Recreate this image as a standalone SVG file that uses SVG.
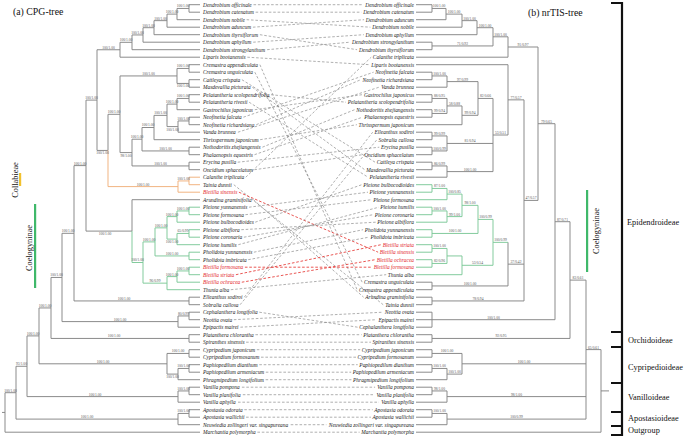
<svg xmlns="http://www.w3.org/2000/svg" width="685" height="437" viewBox="0 0 685 437">
<style>
.t{font-family:"Liberation Serif","Times New Roman",serif;font-style:italic;font-size:5.4px;fill:#222}
.tl{text-anchor:start}.tr{text-anchor:end}
.red{fill:#e3262b}
.s{font-family:"Liberation Serif","Times New Roman",serif;font-size:3.6px;fill:#555;text-anchor:middle}
.br{fill:none;stroke:#858585;stroke-width:0.95}
.gr{fill:none;stroke:#7cc898;stroke-width:0.95}
.or{fill:none;stroke:#f0b07a;stroke-width:0.95}
.lk line{stroke:#8e8e8e;stroke-width:0.7;stroke-dasharray:2.6 1.8}
.lk line.r{stroke:#e53935;stroke-width:0.85}
.h{font-family:"Liberation Serif","Times New Roman",serif;font-size:8.3px;fill:#111}
.ti{font-family:"Liberation Serif","Times New Roman",serif;font-size:9.8px;fill:#111}
</style>
<rect width="685" height="437" fill="#fff"/>
<text class="ti" x="13" y="15">(a) CPG-tree</text>
<text class="ti" x="528" y="16">(b) nrTIS-tree</text>

<g id="tree-a">
<path class="br" d="M200 4.7H189V12.2H200M189 8.45H177V19.7H200M177 14.1H167V27.2H200M167 20.65H154V34.7H200M154 27.7H143V42.2H200M143 34.95H132V49.7H200M132 42.3H120V57.2H200M200 64.7H189V72.2H200M200 79.7H189V87.2H200M189 68.45H177V83.45H189M200 94.7H189V102.2H200M189 98.45H177V109.7H200M200 117.2H189V124.7H200M189 120.95H178V132.2H200M177 104.1H167V126.6H178M167 115.35H154V139.7H200M200 147.2H189V154.7H200M154 127.5H142V150.95H189M200 162.2H189V169.7H200M142 139.2H132V165.95H189M177 75.95H120V152.6H132M120 114.3H108V150.45M120 49.75H97V150.45H108M97 100.1H86V231.1H132M200 199.7H132V231.1M200 297.2H189V304.7H200M86 165.6H74V300.95H189M200 312.2H189V319.7H200M189 315.95H178V327.2H200M74 233.3H62V321.6H178M200 334.7H189V342.2H200M62 277.45H51V338.45H189M200 349.7H189V357.2H200M200 364.7H189V372.2H200M189 368.45H178V379.7H200M189 353.45H167V374.1H178M51 307.95H39V363.8H167M200 387.2H189V394.7H200M189 390.95H178V402.2H200M39 335.9H27V396.6H178M200 409.7H189V417.2H200M189 413.45H178V424.7H200M27 366.25H16V419.1H178M16 392.7H5V432.2H200M2 412.45H5"/>
<path class="or" d="M108 150.45V186.6H178M200 177.2H189V184.7H200M189 180.95H178V192.2H200"/>
<path class="gr" d="M132 231.1V262.5H143M200 207.2H189V214.7H200M189 210.95H177V222.2H200M200 229.7H189V237.2H200M189 233.45H177V244.7H200M177 216.6H167V239.1H177M200 252.2H189V259.7H200M167 227.85H155V255.95H189M200 267.2H189V274.7H200M189 270.95H177V282.2H200M177 276.6H167V289.7H200M155 241.9H143V283.15H167"/>
</g>

<g id="tree-b">
<path class="br" d="M416 4.7H432V12.2H416M432 8.45H446V19.7H416M446 14.1H462V27.2H416M462 20.65H477V34.7H416M416 42.2H432V49.7H416M477 27.7H493V45.95H432M493 36.8H508V57.2H416M416 72.2H432V79.7H416M432 75.95H447V87.2H416M416 94.7H432V102.2H416M416 109.7H432V117.2H416M432 98.45H447V113.45H432M447 105.95H462V124.7H416M447 81.6H478V115.3H462M416 132.2H432V139.7H416M416 147.2H432V154.7H416M432 135.95H447V150.95H432M416 162.2H432V169.7H416M432 165.95H447V177.2H416M478 98.45H493V171.6H447M447 143.45H493M416 64.7H508V135H493M416 282.2H432V289.7H416M508 242.35V285.95H432M416 297.2H432V304.7H416M508 99.85H524V300.95H432M508 264.15H524M508 47H538V200.4H524M416 312.2H432V327.2H416M416 319.7H432M538 123.7H555V319.7H432M416 334.7H432V342.2H416M555 221.7H570V338.45H432M416 349.7H432V357.2H416M416 364.7H432V372.2H416M432 368.45H447V379.7H416M432 353.45H462V374.1H447M416 387.2H432V394.7H416M432 390.95H447V402.2H416M416 409.7H432V417.2H416M432 413.45H447V424.7H416M570 280.1H586V419.1H447M462 363.8H586M447 396.6H586M586 349.6H601V432.2H416M601 390.9H609"/>
<path class="gr" d="M416 184.7H432V192.2H416M432 188.45H447V199.7H416M416 207.2H432V214.7H416M432 210.95H447V222.2H416M447 194.1H462V216.6H447M416 229.7H432V237.2H416M462 205.35H478V233.45H432M416 244.7H432V252.2H416M416 259.7H432V267.2H416M432 248.45H447V263.45H432M447 255.95H462V274.7H416M478 219.4H493V265.3H462M493 242.35H508"/>
</g>

<g id="support-a" class="s">
<text x="183" y="7.35">100/1.00</text><text x="172" y="13">100/1.00</text><text x="160.5" y="19.55">100/1.00</text><text x="148.5" y="26.6">100/1.00</text><text x="137.5" y="33.85">100/1.00</text><text x="126" y="41.2">100/1.00</text><text x="108.5" y="48.65">100/1.00</text>
<text x="183" y="67.35">100/1.00</text><text x="183" y="87.35">100/1.00</text><text x="148.5" y="74.85">100/1.00</text>
<text x="183" y="97.35">100/1.00</text><text x="172" y="103">100/1.00</text><text x="183.5" y="119.85">100/1.00</text><text x="172.5" y="130.5">100/1.00</text><text x="160.5" y="114.25">100/1.00</text><text x="148" y="126.4">100/1.00</text><text x="165.5" y="149.85">100/1.00</text><text x="137" y="138.1">100/1.00</text><text x="160.5" y="164.85">100/1.00</text><text x="126" y="156.5">98/1.00</text><text x="114" y="113.2">100/1.00</text><text x="102.5" y="154.35">100/1.00</text><text x="91.5" y="99">100/1.00</text>
<text x="183.5" y="179.85">100/1.00</text><text x="143" y="185.5">100/1.00</text>
<text x="183" y="209.85">100/1.00</text><text x="172" y="215.5">100/1.00</text><text x="183" y="232.35">65/0.99</text><text x="172" y="243">100/1.00</text><text x="161" y="226.75">100/1.00</text><text x="172" y="254.85">100/1.00</text><text x="149" y="240.8">100/1.00</text><text x="183" y="269.85">100/1.00</text><text x="172" y="275.5">100/1.00</text><text x="155" y="282.05">96/0.99</text><text x="137.5" y="261.4">100/1.00</text><text x="105" y="235">100/1.00</text>
<text x="80" y="164.5">100/1.00</text><text x="124" y="299.85">100/1.00</text><text x="68" y="232.2">100/1.00</text><text x="183.5" y="314.85">80/0.99</text><text x="120" y="320.5">100/1.00</text><text x="56.5" y="276.35">100/1.00</text><text x="114" y="337.35">100/1.00</text><text x="45" y="306.85">100/1.00</text>
<text x="178" y="352.35">100/1.00</text><text x="183.5" y="367.35">100/1.00</text><text x="172.5" y="378">100/1.00</text><text x="103" y="362.7">100/1.00</text><text x="33" y="334.8">100/1.00</text><text x="183.5" y="389.85">100/1.00</text><text x="95" y="395.5">100/1.00</text><text x="21.5" y="365.15">93/1.00</text><text x="183.5" y="412.35">100/1.00</text><text x="87" y="418">100/1.00</text><text x="10.5" y="391.6">100/1.00</text>
</g>

<g id="support-b" class="s">
<text x="439" y="7.35">100/1.00</text><text x="454" y="13">100/1.00</text><text x="469.5" y="19.55">100/1.00</text><text x="485" y="26.6">100/1.00</text><text x="462.5" y="44.85">71/0.92</text><text x="500.5" y="35.7">100/1.00</text><text x="523" y="45.9">91/0.97</text>
<text x="439.5" y="74.85">100/1.00</text><text x="462.5" y="80.5">97/0.99</text><text x="439.5" y="97.35">88/0.95</text><text x="439.5" y="112.35">99/0.94</text><text x="454.5" y="104.85">58/0.88</text><text x="470" y="114.2">99/0.94</text><text x="485.5" y="97.35">82/0.66</text>
<text x="439.5" y="134.85">99/0.99</text><text x="439.5" y="149.85">100/0.99</text><text x="470" y="142.35">81/0.94</text><text x="439.5" y="164.85">86/0.99</text><text x="470" y="170.5">100/1.00</text><text x="500.5" y="133.9">53/0.51</text><text x="516" y="98.75">77/0.57</text>
<text x="439.5" y="187.35">87/1.00</text><text x="454.5" y="193">100/0.85</text><text x="439.5" y="209.85">100/1.00</text><text x="454.5" y="215.5">99/1.00</text><text x="470" y="204.25">98/1.00</text><text x="455" y="232.35">100/1.00</text><text x="485.5" y="218.3">100/0.99</text>
<text x="439.5" y="247.35">100/1.00</text><text x="439.5" y="262.35">82/0.96</text><text x="477.5" y="264.2">53/0.54</text><text x="500.5" y="241.25">100/0.99</text><text x="470" y="284.85">100/1.00</text><text x="516" y="263.05">37/0.42</text><text x="478" y="299.85">78/0.94</text>
<text x="531" y="199.3">47/0.57</text><text x="546.5" y="122.6">79/0.65</text><text x="493.5" y="318.6">100/1.00</text><text x="562.5" y="220.6">87/0.71</text><text x="501" y="337.35">92/0.95</text><text x="578" y="279">83/0.61</text>
<text x="447" y="352.35">100/1.00</text><text x="439.5" y="367.35">100/1.00</text><text x="454.5" y="373">100/1.00</text><text x="524" y="362.7">100/1.00</text><text x="439.5" y="389.85">98/1.00</text><text x="516.5" y="395.5">98/1.00</text><text x="439.5" y="412.35">100/1.00</text><text x="516.5" y="418">100/0.99</text><text x="593.5" y="348.5">65/0.61</text>
</g>

<g id="links" class="lk">
<line x1="253.5" y1="4.7" x2="363.5" y2="4.7"/>
<line x1="255.6" y1="12.2" x2="361.4" y2="12.2"/>
<line x1="246.6" y1="19.7" x2="370.4" y2="27.2"/>
<line x1="252.9" y1="27.2" x2="364.1" y2="19.7"/>
<line x1="259.9" y1="34.7" x2="357.1" y2="49.7"/>
<line x1="253.2" y1="42.2" x2="363.8" y2="34.7"/>
<line x1="267.1" y1="49.7" x2="349.9" y2="42.2"/>
<line x1="247.3" y1="57.2" x2="369.7" y2="64.7"/>
<line x1="259.9" y1="64.7" x2="357.1" y2="289.7"/>
<line x1="254.8" y1="72.2" x2="362.2" y2="282.2"/>
<line x1="241.9" y1="79.7" x2="375.1" y2="162.2"/>
<line x1="252.3" y1="87.2" x2="364.7" y2="169.7"/>
<line x1="271" y1="94.7" x2="346" y2="102.2"/>
<line x1="249.1" y1="102.2" x2="368" y2="177.2"/>
<line x1="254.8" y1="109.7" x2="362.2" y2="94.7"/>
<line x1="243.4" y1="117.2" x2="373.6" y2="72.2"/>
<line x1="256.3" y1="124.7" x2="360.7" y2="79.7"/>
<line x1="237.9" y1="132.2" x2="379.1" y2="87.2"/>
<line x1="260.1" y1="139.7" x2="356.9" y2="124.7"/>
<line x1="262.4" y1="147.2" x2="354.6" y2="109.7"/>
<line x1="254.5" y1="154.7" x2="362.5" y2="117.2"/>
<line x1="237.7" y1="162.2" x2="379.3" y2="147.2"/>
<line x1="254.4" y1="169.7" x2="362.6" y2="154.7"/>
<line x1="245.8" y1="177.2" x2="371.2" y2="57.2"/>
<line x1="233.8" y1="184.7" x2="383.2" y2="304.7"/>
<line class="r" x1="238.9" y1="192.2" x2="378.1" y2="252.2"/>
<line x1="253.4" y1="199.7" x2="363.6" y2="297.2"/>
<line x1="249" y1="207.2" x2="368" y2="192.2"/>
<line x1="245.4" y1="214.7" x2="371.6" y2="199.7"/>
<line x1="255.2" y1="222.2" x2="361.8" y2="184.7"/>
<line x1="241.3" y1="229.7" x2="375.7" y2="222.2"/>
<line x1="243.9" y1="237.2" x2="373.1" y2="214.7"/>
<line x1="238.3" y1="244.7" x2="378.8" y2="207.2"/>
<line x1="253.9" y1="252.2" x2="363.1" y2="229.7"/>
<line x1="248.2" y1="259.7" x2="368.8" y2="237.2"/>
<line class="r" x1="244.9" y1="267.2" x2="372.1" y2="267.2"/>
<line class="r" x1="235.9" y1="274.7" x2="381.1" y2="244.7"/>
<line class="r" x1="241.8" y1="282.2" x2="375.2" y2="259.7"/>
<line x1="230.8" y1="289.7" x2="386.2" y2="274.7"/>
<line x1="244.3" y1="297.2" x2="372.7" y2="132.2"/>
<line x1="240.1" y1="304.7" x2="376.9" y2="139.7"/>
<line x1="259.3" y1="312.2" x2="357.7" y2="327.2"/>
<line x1="233.8" y1="319.7" x2="383.2" y2="312.2"/>
<line x1="240.4" y1="327.2" x2="376.6" y2="319.7"/>
<line x1="255.4" y1="334.7" x2="361.6" y2="334.7"/>
<line x1="246.1" y1="342.2" x2="370.9" y2="342.2"/>
<line x1="256.8" y1="349.7" x2="360.2" y2="349.7"/>
<line x1="261" y1="357.2" x2="356" y2="357.2"/>
<line x1="259.3" y1="364.7" x2="357.7" y2="364.7"/>
<line x1="265.8" y1="372.2" x2="351.2" y2="372.2"/>
<line x1="265.6" y1="379.7" x2="351.4" y2="379.7"/>
<line x1="241.9" y1="387.2" x2="375.1" y2="387.2"/>
<line x1="242.8" y1="394.7" x2="374.2" y2="394.7"/>
<line x1="238" y1="402.2" x2="379" y2="402.2"/>
<line x1="244.3" y1="409.7" x2="372.7" y2="409.7"/>
<line x1="246.1" y1="417.2" x2="370.9" y2="417.2"/>
<line x1="290.7" y1="424.7" x2="326.3" y2="424.7"/>
<line x1="257.4" y1="432.2" x2="359.6" y2="432.2"/>
</g>

<g class="t tl">
<g id="a01"><text x="203" y="6.6">Dendrobium officinale</text></g>
<g id="a02"><text x="203" y="14.1">Dendrobium catenatum</text></g>
<g id="a03"><text x="203" y="21.6">Dendrobium nobile</text></g>
<g id="a04"><text x="203" y="29.1">Dendrobium aduncum</text></g>
<g id="a05"><text x="203" y="36.6">Dendrobium thyrsiflorum</text></g>
<g id="a06"><text x="203" y="44.1">Dendrobium aphyllum</text></g>
<g id="a07"><text x="203" y="51.6">Dendrobium strongylanthum</text></g>
<g id="a08"><text x="203" y="59.1">Liparis bootanensis</text></g>
<g id="a09"><text x="203" y="66.6">Cremastra appendiculata</text></g>
<g id="a10"><text x="203" y="74.1">Cremastra unguiculata</text></g>
<g id="a11"><text x="203" y="81.6">Cattleya crispata</text></g>
<g id="a12"><text x="203" y="89.1">Masdevallia picturata</text></g>
<g id="a13"><text x="203" y="96.6">Pelatantheria scolopendrifolia</text></g>
<g id="a14"><text x="203" y="104.1">Pelatantheria rivesii</text></g>
<g id="a15"><text x="203" y="111.6">Gastrochilus japonicus</text></g>
<g id="a16"><text x="203" y="119.1">Neofinetia falcata</text></g>
<g id="a17"><text x="203" y="126.6">Neofinetia richardsiana</text></g>
<g id="a18"><text x="203" y="134.1">Vanda brunnea</text></g>
<g id="a19"><text x="203" y="141.6">Thrixspermum japonicum</text></g>
<g id="a20"><text x="203" y="149.1">Nothodoritis zhejiangensis</text></g>
<g id="a21"><text x="203" y="156.6">Phalaenopsis equestris</text></g>
<g id="a22"><text x="203" y="164.1">Erycina pusilla</text></g>
<g id="a23"><text x="203" y="171.6">Oncidium sphacelatum</text></g>
<g id="a24"><text x="203" y="179.1">Calanthe triplicata</text></g>
<g id="a25"><text x="203" y="186.6">Tainia dunnii</text></g>
<g id="a26"><text class="red" x="203" y="194.1">Bletilla sinensis</text></g>
<g id="a27"><text x="203" y="201.6">Arundina graminifolia</text></g>
<g id="a28"><text x="203" y="209.1">Pleione yunnanensis</text></g>
<g id="a29"><text x="203" y="216.6">Pleione formosana</text></g>
<g id="a30"><text x="203" y="224.1">Pleione bulbocodioides</text></g>
<g id="a31"><text x="203" y="231.6">Pleione albiflora</text></g>
<g id="a32"><text x="203" y="239.1">Pleione coronaria</text></g>
<g id="a33"><text x="203" y="246.6">Pleione humilis</text></g>
<g id="a34"><text x="203" y="254.1">Pholidota yunnanensis</text></g>
<g id="a35"><text x="203" y="261.6">Pholidota imbricata</text></g>
<g id="a36"><text class="red" x="203" y="269.1">Bletilla formosana</text></g>
<g id="a37"><text class="red" x="203" y="276.6">Bletilla striata</text></g>
<g id="a38"><text class="red" x="203" y="284.1">Bletilla ochracea</text></g>
<g id="a39"><text x="203" y="291.6">Thunia alba</text></g>
<g id="a40"><text x="203" y="299.1">Elleanthus sodiroi</text></g>
<g id="a41"><text x="203" y="306.6">Sobralia callosa</text></g>
<g id="a42"><text x="203" y="314.1">Cephalanthera longifolia</text></g>
<g id="a43"><text x="203" y="321.6">Neottia ovata</text></g>
<g id="a44"><text x="203" y="329.1">Epipactis mairei</text></g>
<g id="a45"><text x="203" y="336.6">Platanthera chlorantha</text></g>
<g id="a46"><text x="203" y="344.1">Spiranthes sinensis</text></g>
<g id="a47"><text x="203" y="351.6">Cypripedium japonicum</text></g>
<g id="a48"><text x="203" y="359.1">Cypripedium formosanum</text></g>
<g id="a49"><text x="203" y="366.6">Paphiopedilum dianthum</text></g>
<g id="a50"><text x="203" y="374.1">Paphiopedilum armeniacum</text></g>
<g id="a51"><text x="203" y="381.6">Phragmipedium longifolium</text></g>
<g id="a52"><text x="203" y="389.1">Vanilla pompona</text></g>
<g id="a53"><text x="203" y="396.6">Vanilla planifolia</text></g>
<g id="a54"><text x="203" y="404.1">Vanilla aphylla</text></g>
<g id="a55"><text x="203" y="411.6">Apostasia odorata</text></g>
<g id="a56"><text x="203" y="419.1">Apostasia wallichii</text></g>
<g id="a57"><text x="203" y="426.6">Neuwiedia zollingeri var. singapureana</text></g>
<g id="a58"><text x="203" y="434.1">Marchantia polymorpha</text></g>
</g>

<g class="t tr">
<g id="b01"><text x="414" y="6.6">Dendrobium officinale</text></g>
<g id="b02"><text x="414" y="14.1">Dendrobium catenatum</text></g>
<g id="b03"><text x="414" y="21.6">Dendrobium aduncum</text></g>
<g id="b04"><text x="414" y="29.1">Dendrobium nobile</text></g>
<g id="b05"><text x="414" y="36.6">Dendrobium aphyllum</text></g>
<g id="b06"><text x="414" y="44.1">Dendrobium strongylanthum</text></g>
<g id="b07"><text x="414" y="51.6">Dendrobium thyrsiflorum</text></g>
<g id="b08"><text x="414" y="59.1">Calanthe triplicata</text></g>
<g id="b09"><text x="414" y="66.6">Liparis bootanensis</text></g>
<g id="b10"><text x="414" y="74.1">Neofinetia falcata</text></g>
<g id="b11"><text x="414" y="81.6">Neofinetia richardsiana</text></g>
<g id="b12"><text x="414" y="89.1">Vanda brunnea</text></g>
<g id="b13"><text x="414" y="96.6">Gastrochilus japonicus</text></g>
<g id="b14"><text x="414" y="104.1">Pelatantheria scolopendrifolia</text></g>
<g id="b15"><text x="414" y="111.6">Nothodoritis zhejiangensis</text></g>
<g id="b16"><text x="414" y="119.1">Phalaenopsis equestris</text></g>
<g id="b17"><text x="414" y="126.6">Thrixspermum japonicum</text></g>
<g id="b18"><text x="414" y="134.1">Elleanthus sodiroi</text></g>
<g id="b19"><text x="414" y="141.6">Sobralia callosa</text></g>
<g id="b20"><text x="414" y="149.1">Erycina pusilla</text></g>
<g id="b21"><text x="414" y="156.6">Oncidium sphacelatum</text></g>
<g id="b22"><text x="414" y="164.1">Cattleya crispata</text></g>
<g id="b23"><text x="414" y="171.6">Masdevallia picturata</text></g>
<g id="b24"><text x="414" y="179.1">Pelatantheria rivesii</text></g>
<g id="b25"><text x="414" y="186.6">Pleione bulbocodioides</text></g>
<g id="b26"><text x="414" y="194.1">Pleione yunnanensis</text></g>
<g id="b27"><text x="414" y="201.6">Pleione formosana</text></g>
<g id="b28"><text x="414" y="209.1">Pleione humilis</text></g>
<g id="b29"><text x="414" y="216.6">Pleione coronaria</text></g>
<g id="b30"><text x="414" y="224.1">Pleione albiflora</text></g>
<g id="b31"><text x="414" y="231.6">Pholidota yunnanensis</text></g>
<g id="b32"><text x="414" y="239.1">Pholidota imbricata</text></g>
<g id="b33"><text class="red" x="414" y="246.6">Bletilla striata</text></g>
<g id="b34"><text class="red" x="414" y="254.1">Bletilla sinensis</text></g>
<g id="b35"><text class="red" x="414" y="261.6">Bletilla ochracea</text></g>
<g id="b36"><text class="red" x="414" y="269.1">Bletilla formosana</text></g>
<g id="b37"><text x="414" y="276.6">Thunia alba</text></g>
<g id="b38"><text x="414" y="284.1">Cremastra unguiculata</text></g>
<g id="b39"><text x="414" y="291.6">Cremastra appendiculata</text></g>
<g id="b40"><text x="414" y="299.1">Arundina graminifolia</text></g>
<g id="b41"><text x="414" y="306.6">Tainia dunnii</text></g>
<g id="b42"><text x="414" y="314.1">Neottia ovata</text></g>
<g id="b43"><text x="414" y="321.6">Epipactis mairei</text></g>
<g id="b44"><text x="414" y="329.1">Cephalanthera longifolia</text></g>
<g id="b45"><text x="414" y="336.6">Platanthera chlorantha</text></g>
<g id="b46"><text x="414" y="344.1">Spiranthes sinensis</text></g>
<g id="b47"><text x="414" y="351.6">Cypripedium japonicum</text></g>
<g id="b48"><text x="414" y="359.1">Cypripedium formosanum</text></g>
<g id="b49"><text x="414" y="366.6">Paphiopedilum dianthum</text></g>
<g id="b50"><text x="414" y="374.1">Paphiopedilum armeniacum</text></g>
<g id="b51"><text x="414" y="381.6">Phragmipedium longifolium</text></g>
<g id="b52"><text x="414" y="389.1">Vanilla pompona</text></g>
<g id="b53"><text x="414" y="396.6">Vanilla planifolia</text></g>
<g id="b54"><text x="414" y="404.1">Vanilla aphylla</text></g>
<g id="b55"><text x="414" y="411.6">Apostasia odorata</text></g>
<g id="b56"><text x="414" y="419.1">Apostasia wallichii</text></g>
<g id="b57"><text x="414" y="426.6">Neuwiedia zollingeri var. singapureana</text></g>
<g id="b58"><text x="414" y="434.1">Marchantia polymorpha</text></g>
</g>

<g id="clade-collabieae">
<rect x="19" y="173" width="2.2" height="13" fill="#f2c12e"/>
<text class="h" transform="translate(18,180) rotate(-90)" text-anchor="middle" font-size="8">Collabieae</text>
</g>
<g id="clade-coelogyninae-a">
<rect x="34" y="204" width="2.2" height="84" fill="#3fb86a"/>
<text class="h" transform="translate(31.5,248) rotate(-90)" text-anchor="middle" font-size="8.6">Coelogyninae</text>
</g>
<g id="clade-coelogyninae-b">
<rect x="586" y="190" width="2.2" height="82" fill="#3fb86a"/>
<text class="h" transform="translate(599,231) rotate(-90)" text-anchor="middle" font-size="8.6">Coelogyninae</text>
</g>

<g id="subfamilies">
<path d="M622 2V436M611 3H622M611 332H622M611 347H622M611 383H622M611 412H622M611 426H622M611 435H622" fill="none" stroke="#111" stroke-width="2.2"/>
<text class="h" x="627" y="225">Epidendroideae</text>
<text class="h" x="628" y="343">Orchidoideae</text>
<text class="h" x="628" y="370">Cypripedioideae</text>
<text class="h" x="628" y="400">Vanilloideae</text>
<text class="h" x="628" y="421">Apostasioideae</text>
<text class="h" x="628" y="433">Outgroup</text>
</g>
</svg>
